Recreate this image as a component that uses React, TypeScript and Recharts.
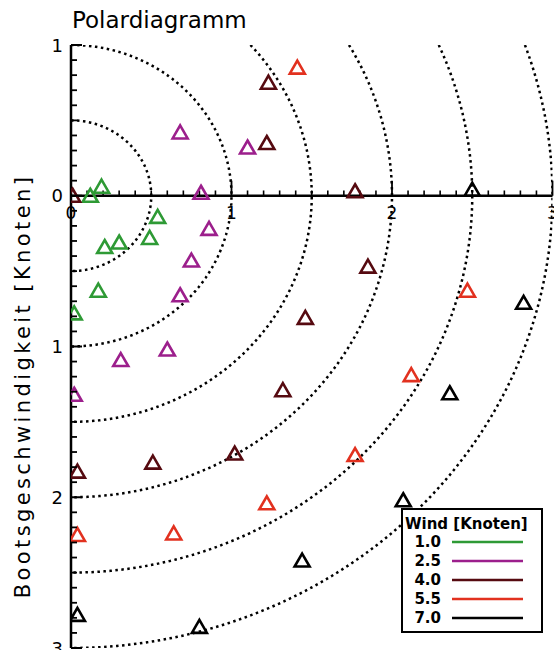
import React from 'react';
import {
  ScatterChart,
  Scatter,
  XAxis,
  YAxis,
  ReferenceLine,
  ReferenceDot,
  Legend,
} from 'recharts';

const FONT = '"DejaVu Sans", Arial, sans-serif';

// wind classes (legend) and their colours
const WIND_LABELS = ['1.0', '2.5', '4.0', '5.5', '7.0'];
const WIND_COLORS = ['#2e9a35', '#9c1f8c', '#560a10', '#e2311f', '#000000'];

// boat speed components (x to the right, y downward)
const GREEN_X = [0.12, 0.19, 0.54, 0.49, 0.30, 0.21, 0.17, 0.02];
const GREEN_Y = [0.0, -0.06, 0.14, 0.28, 0.31, 0.34, 0.63, 0.78];

const PURPLE_X = [0.68, 1.10, 0.81, 0.86, 0.75, 0.68, 0.60, 0.31, 0.02];
const PURPLE_Y = [-0.42, -0.32, -0.02, 0.22, 0.43, 0.66, 1.02, 1.09, 1.32];

const MAROON_X = [1.23, 1.22, 0.01, 1.77, 1.85, 1.46, 1.32, 1.02, 0.51, 0.04];
const MAROON_Y = [-0.75, -0.35, 0.0, -0.03, 0.47, 0.81, 1.29, 1.71, 1.77, 1.83];

const RED_X = [1.41, 2.47, 2.12, 1.77, 1.22, 0.64, 0.04];
const RED_Y = [-0.85, 0.63, 1.19, 1.72, 2.04, 2.24, 2.25];

const BLACK_X = [2.50, 2.82, 2.36, 2.07, 1.44, 0.80, 0.04];
const BLACK_Y = [-0.04, 0.71, 1.31, 2.02, 2.42, 2.86, 2.78];

const SERIES_X = [GREEN_X, PURPLE_X, MAROON_X, RED_X, BLACK_X];
const SERIES_Y = [GREEN_Y, PURPLE_Y, MAROON_Y, RED_Y, BLACK_Y];

// dotted speed rings
const RING_RADII = [0.5, 1, 1.5, 2, 2.5, 3];

const X_MAJOR = [0, 1, 2, 3];
const Y_MAJOR = [-1, 0, 1, 2, 3];

const X_MINOR: number[] = [];
for (let k = 1; k < 30; k++) if (k % 10 !== 0) X_MINOR.push(k / 10);
const Y_MINOR: number[] = [];
for (let k = -9; k < 30; k++) if (k % 10 !== 0) Y_MINOR.push(k / 10);

// plot box (the chart margins below)
const CHART_W = 554;
const CHART_H = 650;
const MARGIN = { top: 45, right: 1.5, bottom: 2, left: 0 };
const Y_AXIS_W = 71;
const PLOT_H = CHART_H - MARGIN.top - MARGIN.bottom;
const yPix = (v: number) => MARGIN.top + ((v + 1) / 4) * PLOT_H;

const series = WIND_LABELS.map((name, i) => ({
  name,
  color: WIND_COLORS[i],
  data: SERIES_X[i].map((x, j) => ({ x, y: SERIES_Y[i][j] })),
}));

// points on a ring, cut off at the top edge of the plot (y = -1)
const ringPoints = (r: number) => {
  const start = r > 1 ? -Math.asin(1 / r) : -Math.PI / 2;
  const pts: { x: number; y: number }[] = [];
  const n = 120;
  for (let k = 0; k <= n; k++) {
    const a = start + ((Math.PI / 2 - start) * k) / n;
    pts.push({ x: r * Math.cos(a), y: r * Math.sin(a) });
  }
  return pts;
};

const YTick = (props: any) => {
  const { x, y, payload } = props;
  return (
    <text
      x={x - 8}
      y={y}
      textAnchor="end"
      dominantBaseline="central"
      fontSize={18}
      fontFamily={FONT}
      fill="#000"
    >
      {Math.abs(Math.round(payload.value))}
    </text>
  );
};

const Triangle = ({ cx, cy, color }: { cx: number; cy: number; color: string }) => (
  <path
    d={`M${cx},${cy - 7} L${cx + 7.5},${cy + 6} L${cx - 7.5},${cy + 6} Z`}
    fill="none"
    stroke={color}
    strokeWidth={2.6}
    strokeLinejoin="miter"
  />
);

const WindLegend = () => (
  <svg width={142} height={125} style={{ display: 'block' }}>
    <rect x={1} y={1} width={140} height={123} fill="#fff" stroke="#000" strokeWidth={2} />
    <text x={4} y={16} dominantBaseline="central" fontSize={15} fontWeight="bold" fontFamily={FONT}>
      Wind [Knoten]
    </text>
    {WIND_LABELS.map((label, i) => (
      <g key={label}>
        <text
          x={40}
          y={34 + i * 19}
          textAnchor="end"
          dominantBaseline="central"
          fontSize={15}
          fontWeight="bold"
          fontFamily={FONT}
        >
          {label}
        </text>
        <line x1={51} x2={122} y1={34 + i * 19} y2={34 + i * 19} stroke={WIND_COLORS[i]} strokeWidth={2.5} />
      </g>
    ))}
  </svg>
);

export default function App() {
  return (
    <div style={{ position: 'absolute', left: 0, top: 0, width: CHART_W, height: CHART_H, background: '#fff' }}>
      <ScatterChart width={CHART_W} height={CHART_H} margin={MARGIN}>
        <XAxis type="number" dataKey="x" domain={[0, 3]} hide allowDataOverflow />
        <YAxis
          type="number"
          dataKey="y"
          domain={[-1, 3]}
          reversed
          allowDataOverflow
          ticks={Y_MAJOR}
          interval={0}
          tick={(p: any) => <YTick {...p} />}
          tickSize={0}
          tickMargin={0}
          tickLine={false}
          axisLine={{ stroke: '#000', strokeWidth: 2.5 }}
          width={Y_AXIS_W}
        />

        {RING_RADII.map((r) => (
          <Scatter
            key={`ring-${r}`}
            name={`ring-${r}`}
            data={ringPoints(r)}
            line={{ stroke: '#000', strokeWidth: 2.5, strokeDasharray: '2.5 3.5' }}
            lineType="joint"
            shape={() => <g />}
            legendType="none"
            isAnimationActive={false}
          />
        ))}

        {/* x axis drawn along y = 0 */}
        <ReferenceLine y={0} stroke="#000" strokeWidth={2.5} />
        {X_MINOR.map((t) => (
          <ReferenceLine
            key={`xm-${t}`}
            segment={[{ x: t, y: 0 }, { x: t, y: -0.035 }]}
            stroke="#000"
            strokeWidth={1.6}
          />
        ))}
        {X_MAJOR.map((t) => (
          <ReferenceLine
            key={`xM-${t}`}
            segment={[{ x: t, y: 0 }, { x: t, y: -0.1 }]}
            stroke="#000"
            strokeWidth={1.8}
          />
        ))}
        {X_MAJOR.map((t) => (
          <ReferenceDot
            key={`xl-${t}`}
            x={t}
            y={0}
            r={0}
            fill="none"
            stroke="none"
            label={{ value: String(t), position: 'bottom', offset: 11, fontSize: 17, fill: '#000', fontFamily: FONT }}
          />
        ))}

        {series.map((s) => (
          <Scatter
            key={s.name}
            name={s.name}
            data={s.data}
            fill={s.color}
            shape={(p: any) => <Triangle cx={p.cx} cy={p.cy} color={s.color} />}
            isAnimationActive={false}
          />
        ))}

        <Legend
          layout="horizontal"
          verticalAlign="middle"
          align="center"
          wrapperStyle={{ left: 401, top: 508, width: 142, height: 125 }}
          content={() => <WindLegend />}
        />
      </ScatterChart>

      <svg
        width={CHART_W}
        height={CHART_H}
        style={{ position: 'absolute', left: 0, top: 0, pointerEvents: 'none' }}
      >
        {/* inward ticks on the y axis */}
        {Y_MINOR.map((t) => (
          <path key={`ym-${t}`} d={`M${Y_AXIS_W},${yPix(t)} h6`} stroke="#000" strokeWidth={1.8} />
        ))}
        {Y_MAJOR.map((t) => (
          <path key={`yM-${t}`} d={`M${Y_AXIS_W},${yPix(t)} h11`} stroke="#000" strokeWidth={2} />
        ))}
        <text x={72} y={28} fontSize={23} fontFamily={FONT} fill="#000">
          Polardiagramm
        </text>
        <text
          x={23}
          y={386}
          transform="rotate(-90 23 386)"
          textAnchor="middle"
          dominantBaseline="central"
          fontSize={21}
          letterSpacing={3.4}
          fontFamily={FONT}
          fill="#000"
        >
          Bootsgeschwindigkeit [Knoten]
        </text>
      </svg>
    </div>
  );
}
